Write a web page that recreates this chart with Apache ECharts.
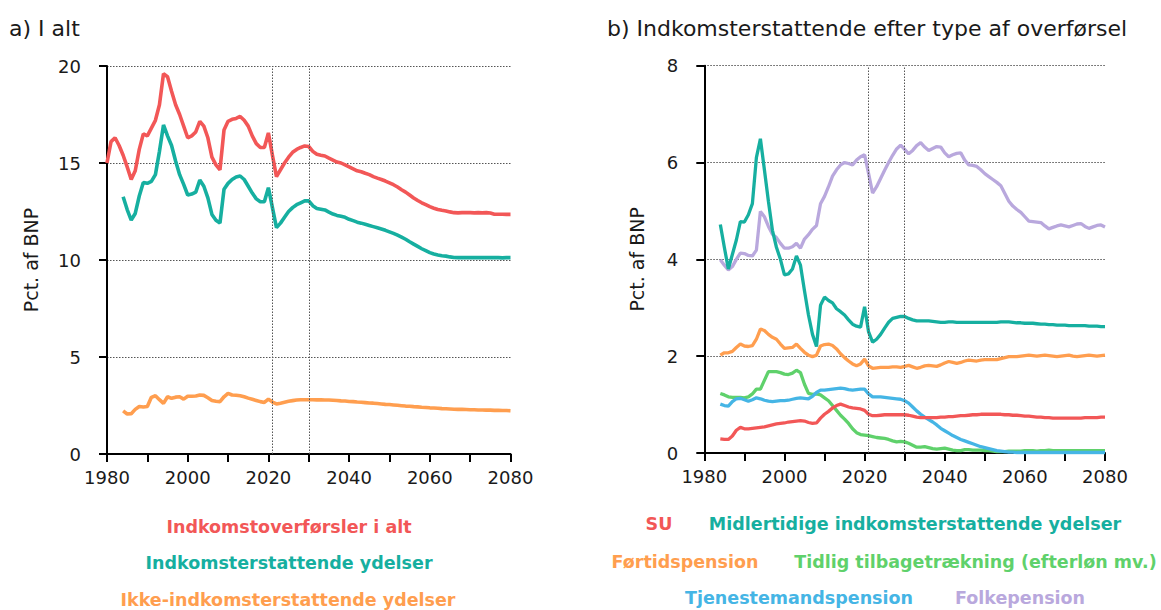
<!DOCTYPE html>
<html><head><meta charset="utf-8">
<script src="https://cdn.jsdelivr.net/npm/echarts@6/dist/echarts.min.js"></script>
<style>html,body{margin:0;padding:0;background:#fff}#c{width:1161px;height:610px}</style>
</head><body><div id="c"></div>
<script>
// ---------- DATA ----------
const totalStart = 1980;   // first year of "Indkomstoverførsler i alt"
const seriesStart = 1984;  // first year of all other series
const xTicks = [1980, 2000, 2020, 2040, 2060, 2080];
const markYears = [2021, 2030];

// a) I alt (pct. af BNP), 1980-2080
const total = [15.0,16.1,16.3,15.9,15.4,14.8,14.15,14.6,15.7,16.5,
16.4,16.8,17.2,18.0,19.6,19.45,18.7,18.0,17.5,16.9,
16.3,16.4,16.6,17.15,16.9,16.3,15.3,14.9,14.65,16.7,
17.15,17.25,17.3,17.4,17.2,16.9,16.4,16.0,15.8,15.8,
16.55,15.4,14.3,14.65,15.0,15.3,15.55,15.7,15.8,15.88,
15.85,15.6,15.45,15.4,15.36,15.25,15.15,15.05,15.0,14.9,
14.8,14.7,14.6,14.55,14.47,14.4,14.3,14.22,14.15,14.07,
13.98,13.88,13.76,13.62,13.5,13.35,13.2,13.07,12.95,12.85,
12.75,12.67,12.6,12.56,12.53,12.48,12.44,12.43,12.44,12.44,
12.44,12.43,12.44,12.43,12.44,12.42,12.36,12.36,12.36,12.35,
12.35];
// 1984-2080
const incomeRepl = [13.26,12.6,12.06,12.4,13.3,14.0,
13.95,14.05,14.4,15.6,16.96,16.4,15.9,15.1,14.4,13.9,
13.35,13.4,13.5,14.12,13.8,13.2,12.35,12.05,11.9,13.65,
13.95,14.15,14.28,14.33,14.15,13.8,13.45,13.15,13.0,13.0,
13.73,12.7,11.67,11.9,12.2,12.5,12.7,12.85,12.95,13.05,
13.05,12.8,12.66,12.62,12.58,12.47,12.37,12.3,12.25,12.2,
12.1,12.03,11.95,11.9,11.84,11.78,11.72,11.66,11.6,11.53,
11.45,11.37,11.28,11.18,11.07,10.94,10.82,10.7,10.58,10.48,
10.38,10.31,10.26,10.22,10.2,10.16,10.13,10.12,10.12,10.12,
10.12,10.13,10.12,10.12,10.13,10.12,10.12,10.12,10.11,10.12,
10.12];
const nonIncomeRepl = [2.22,2.06,2.08,2.3,2.45,2.42,
2.45,2.92,3.0,2.8,2.61,2.95,2.87,2.93,2.95,2.83,
2.98,2.98,2.99,3.04,3.02,2.9,2.76,2.72,2.7,2.95,
3.13,3.04,3.03,3.0,2.95,2.88,2.82,2.76,2.7,2.66,
2.83,2.68,2.58,2.62,2.67,2.72,2.75,2.78,2.8,2.8,
2.8,2.8,2.79,2.79,2.78,2.78,2.77,2.76,2.74,2.73,
2.71,2.7,2.68,2.67,2.65,2.63,2.62,2.6,2.58,2.56,
2.55,2.53,2.51,2.49,2.47,2.46,2.44,2.43,2.41,2.4,
2.38,2.37,2.36,2.34,2.33,2.32,2.31,2.3,2.3,2.29,
2.28,2.28,2.27,2.27,2.26,2.26,2.25,2.25,2.24,2.24,
2.23];

// b) by type, 1984-2080
const su = [0.29,0.28,0.28,0.35,0.47,0.53,
0.5,0.5,0.51,0.52,0.53,0.54,0.56,0.58,0.6,0.61,
0.62,0.64,0.65,0.66,0.67,0.66,0.63,0.61,0.62,0.72,
0.8,0.86,0.93,0.98,1.01,0.98,0.95,0.93,0.92,0.91,
0.88,0.8,0.77,0.77,0.78,0.79,0.79,0.79,0.79,0.79,
0.79,0.78,0.76,0.74,0.73,0.73,0.73,0.73,0.73,0.74,
0.74,0.75,0.75,0.76,0.77,0.77,0.78,0.79,0.79,0.8,
0.8,0.8,0.8,0.8,0.8,0.79,0.79,0.78,0.78,0.77,
0.76,0.76,0.75,0.74,0.74,0.73,0.73,0.72,0.72,0.72,
0.72,0.72,0.72,0.72,0.72,0.73,0.73,0.73,0.73,0.74,
0.74];
const midlertidige = [4.72,4.25,3.8,4.1,4.4,4.78,
4.77,4.92,5.15,6.1,6.49,5.85,5.2,4.6,4.25,4.0,
3.68,3.7,3.8,4.07,3.88,3.35,2.85,2.45,2.2,3.05,
3.22,3.15,3.1,2.98,2.92,2.85,2.75,2.66,2.62,2.6,
3.02,2.5,2.29,2.35,2.45,2.58,2.7,2.78,2.8,2.82,
2.82,2.78,2.75,2.73,2.73,2.73,2.73,2.72,2.71,2.7,
2.7,2.71,2.71,2.7,2.7,2.7,2.7,2.7,2.7,2.7,
2.7,2.7,2.7,2.7,2.71,2.71,2.71,2.7,2.69,2.69,
2.68,2.68,2.68,2.67,2.66,2.66,2.65,2.65,2.64,2.64,
2.64,2.63,2.63,2.63,2.63,2.63,2.62,2.62,2.62,2.61,
2.61];
const foertidspension = [2.02,2.07,2.07,2.1,2.18,2.25,
2.21,2.2,2.22,2.35,2.56,2.53,2.45,2.39,2.35,2.25,
2.16,2.17,2.18,2.25,2.16,2.08,2.02,1.99,2.02,2.21,
2.24,2.25,2.22,2.15,2.05,1.97,1.9,1.84,1.8,1.84,
1.94,1.8,1.75,1.76,1.77,1.77,1.77,1.78,1.78,1.77,
1.79,1.81,1.78,1.75,1.77,1.8,1.81,1.8,1.79,1.82,
1.86,1.89,1.87,1.85,1.87,1.9,1.92,1.91,1.9,1.92,
1.93,1.93,1.93,1.93,1.95,1.97,1.99,1.99,1.99,2.0,
2.01,2.02,2.01,2.0,2.01,2.02,2.01,2.0,1.99,2.0,
2.01,2.02,2.0,1.99,2.0,2.01,2.02,2.01,2.0,2.01,
2.02];
const tidlig = [1.23,1.2,1.16,1.15,1.15,1.15,
1.14,1.16,1.22,1.32,1.32,1.5,1.68,1.68,1.68,1.66,
1.63,1.62,1.65,1.71,1.66,1.42,1.23,1.21,1.22,1.2,
1.14,1.08,0.98,0.88,0.78,0.7,0.61,0.5,0.42,0.38,
0.37,0.36,0.34,0.32,0.31,0.3,0.28,0.25,0.23,0.24,
0.23,0.2,0.16,0.12,0.12,0.13,0.11,0.09,0.08,0.09,
0.1,0.08,0.06,0.05,0.05,0.07,0.07,0.06,0.06,0.06,
0.05,0.05,0.04,0.03,0.03,0.03,0.04,0.04,0.04,0.04,
0.05,0.05,0.05,0.04,0.05,0.05,0.06,0.05,0.05,0.05,
0.05,0.05,0.05,0.05,0.05,0.05,0.05,0.05,0.05,0.05,
0.05];
const tjenestemand = [1.01,0.98,0.97,1.06,1.12,1.13,
1.1,1.07,1.1,1.14,1.12,1.09,1.07,1.06,1.07,1.08,
1.08,1.09,1.11,1.13,1.14,1.13,1.12,1.17,1.25,1.3,
1.3,1.31,1.32,1.33,1.34,1.33,1.31,1.3,1.31,1.32,
1.32,1.22,1.16,1.16,1.16,1.15,1.14,1.13,1.12,1.11,
1.08,1.03,0.95,0.87,0.8,0.74,0.69,0.64,0.58,0.51,
0.46,0.41,0.36,0.32,0.28,0.25,0.22,0.19,0.16,0.13,
0.11,0.09,0.07,0.05,0.04,0.03,0.02,0.02,0.01,0.01,
0.01,0.01,0.01,0.01,0.01,0.01,0.01,0.01,0.01,0.01,
0.01,0.01,0.01,0.01,0.01,0.01,0.01,0.01,0.01,0.01,
0.01];
const folkepension = [3.99,3.88,3.78,3.85,4.0,4.13,
4.12,4.08,4.07,4.19,4.99,4.88,4.68,4.52,4.45,4.33,
4.23,4.23,4.26,4.33,4.23,4.42,4.51,4.62,4.7,5.15,
5.3,5.5,5.72,5.85,5.95,6.0,5.98,5.95,6.05,6.12,
6.16,5.77,5.37,5.5,5.67,5.84,6.0,6.15,6.28,6.36,
6.27,6.18,6.25,6.35,6.41,6.32,6.25,6.29,6.33,6.32,
6.2,6.12,6.16,6.19,6.2,6.05,5.95,5.94,5.92,5.85,
5.77,5.71,5.65,5.59,5.52,5.36,5.2,5.1,5.03,4.97,
4.88,4.79,4.78,4.77,4.76,4.69,4.63,4.66,4.69,4.71,
4.69,4.67,4.7,4.73,4.74,4.68,4.64,4.67,4.7,4.71,
4.67];

// ---------- CHART ----------
const FONT = 'DejaVu Sans';
const C = {red:'#F25757', teal:'#16AFA0', orange:'#FF9E4F', green:'#5FD16B', blue:'#45B5E5', purple:'#B9A8DD'};
const pairs = (arr, start) => arr.map((v, i) => [start + i, v]);

function xAxisCfg(gi){
  return {
    type:'value', gridIndex:gi, min:1980, max:2080, interval:10,
    axisLine:{show:true, onZero:false, lineStyle:{color:'#000', width:2}},
    axisTick:{show:true, length:8, lineStyle:{color:'#000', width:2}},
    axisLabel:{formatter:v => xTicks.includes(v) ? String(v) : '', color:'#1a1a1a', fontSize:18, fontFamily:FONT, margin:14},
    splitLine:{show:false}
  };
}
function yAxisCfg(gi, max, interval, gap){
  return {
    type:'value', gridIndex:gi, min:0, max:max, interval:interval,
    name:'Pct. af BNP', nameLocation:'middle', nameGap:gap, nameRotate:90,
    nameTextStyle:{color:'#1a1a1a', fontSize:19, fontFamily:FONT},
    axisLine:{show:true, lineStyle:{color:'#000', width:2}},
    axisTick:{show:true, length:8, lineStyle:{color:'#000', width:2}},
    axisLabel:{color:'#1a1a1a', fontSize:18, fontFamily:FONT, margin:26},
    splitLine:{show:true, lineStyle:{color:'#555', width:1, type:[1.5,1.5]}}
  };
}
const vLines = {
  silent:true, symbol:['none','none'], label:{show:false},
  lineStyle:{color:'#555', width:1, type:[1.5,1.5]},
  data: markYears.map(y => ({xAxis:y}))
};
function line(name, data, start, color, gi, w, withMark){
  const s = {name, type:'line', xAxisIndex:gi, yAxisIndex:gi, data:pairs(data, start),
    symbol:'none', showSymbol:false, lineStyle:{color, width:w}, itemStyle:{color},
    emphasis:{disabled:true}, animation:false};
  if (withMark) s.markLine = vLines;
  return s;
}

const LEG_FONT_SIZE = 17.5;
const ctx = document.createElement('canvas').getContext('2d');
ctx.font = 'bold ' + LEG_FONT_SIZE + 'px "' + FONT + '"';
function legendAt(name, color, cx, cy){
  const w = ctx.measureText(name).width;
  return {
    left: cx - w/2 - 5, top: cy - 10, padding:0, icon:'none', itemWidth:0, itemHeight:20,
    selectedMode:false, orient:'horizontal',
    textStyle:{fontFamily:FONT, fontSize:LEG_FONT_SIZE, fontWeight:'bold', color},
    data:[{name, textStyle:{color}}]
  };
}

const option = {
  backgroundColor:'#fff',
  animation:false,
  title:[
    {text:'a) I alt', left:9, top:17, padding:0, textStyle:{fontFamily:FONT, fontSize:22, fontWeight:'normal', color:'#1a1a1a'}},
    {text:'b) Indkomsterstattende efter type af overførsel', left:607, top:17, padding:0, textStyle:{fontFamily:FONT, fontSize:22, fontWeight:'normal', color:'#1a1a1a'}}
  ],
  grid:[
    {left:107, top:66, width:403.5, height:388, containLabel:false},
    {left:704.3, top:65.7, width:400.7, height:387.3, containLabel:false}
  ],
  xAxis:[xAxisCfg(0), xAxisCfg(1)],
  yAxis:[yAxisCfg(0, 20, 5, 67), yAxisCfg(1, 8, 2, 58)],
  legend:[
    legendAt('Indkomstoverførsler i alt', C.red, 289, 527),
    legendAt('Indkomsterstattende ydelser', C.teal, 289, 563),
    legendAt('Ikke-indkomsterstattende ydelser', C.orange, 288, 600),
    legendAt('SU', C.red, 659, 524),
    legendAt('Midlertidige indkomsterstattende ydelser', C.teal, 915, 524),
    legendAt('Førtidspension', C.orange, 685, 562),
    legendAt('Tidlig tilbagetrækning (efterløn mv.)', C.green, 975.5, 562),
    legendAt('Tjenestemandspension', C.blue, 799, 598),
    legendAt('Folkepension', C.purple, 1020, 598)
  ],
  series:[
    line('Ikke-indkomsterstattende ydelser', nonIncomeRepl, seriesStart, C.orange, 0, 3.6, true),
    line('Indkomsterstattende ydelser', incomeRepl, seriesStart, C.teal, 0, 3.6, false),
    line('Indkomstoverførsler i alt', total, totalStart, C.red, 0, 3.6, false),
    line('Folkepension', folkepension, seriesStart, C.purple, 1, 3.3, true),
    line('Tidlig tilbagetrækning (efterløn mv.)', tidlig, seriesStart, C.green, 1, 3.3, false),
    line('Tjenestemandspension', tjenestemand, seriesStart, C.blue, 1, 3.3, false),
    line('SU', su, seriesStart, C.red, 1, 3.3, false),
    line('Førtidspension', foertidspension, seriesStart, C.orange, 1, 3.3, false),
    line('Midlertidige indkomsterstattende ydelser', midlertidige, seriesStart, C.teal, 1, 3.3, false)
  ]
};
const chart = echarts.init(document.getElementById('c'), null, {renderer:'svg'});
chart.setOption(option);
</script></body></html>
